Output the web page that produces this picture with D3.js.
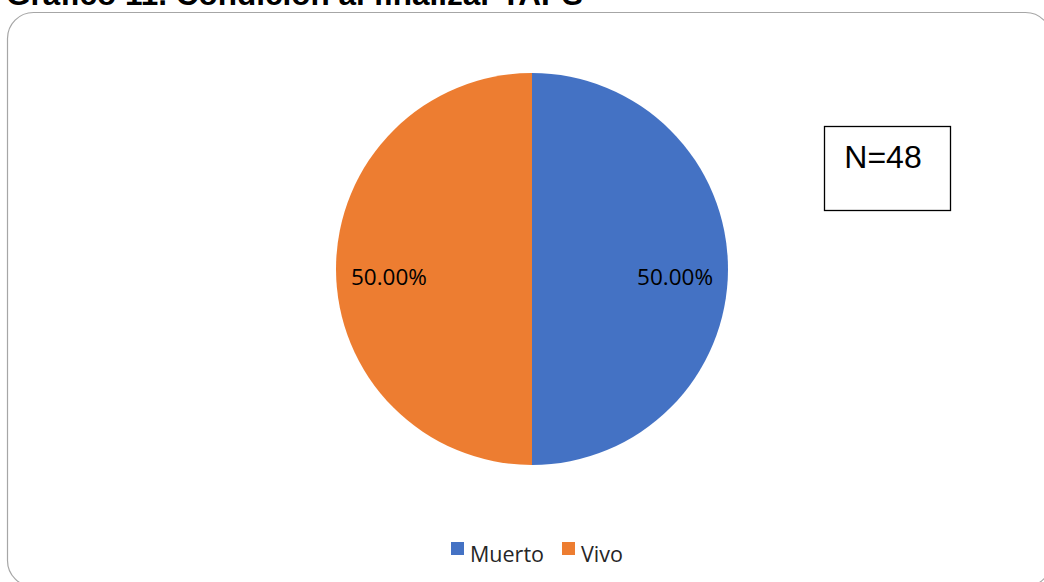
<!DOCTYPE html>
<html>
<head>
<meta charset="utf-8">
<script src="https://cdn.jsdelivr.net/npm/d3@7"></script>
<style>
  html, body { margin: 0; padding: 0; background: #fff; }
  svg { display: block; }
</style>
</head>
<body>
<svg id="chart" width="1044" height="582"></svg>
<script>
// Outcome categories and their shares (percent)
const categories = ["Muerto", "Vivo"];
const values = [50.0, 50.0];
const colors = ["#4472C4", "#ED7D31"];
const sampleLabel = "N=48";
const title = "Gráfico 11. Condición al finalizar TAPS";

const svg = d3.select("#chart");

// Title (runs off the top edge of the page)
svg.append("text")
  .attr("x", 6).attr("y", 5)
  .attr("font-family", "Liberation Sans, Arial, sans-serif")
  .attr("font-weight", "bold")
  .attr("font-size", 31.5)
  .attr("fill", "#000")
  .text(title);

// Chart area frame with rounded corners
svg.append("rect")
  .attr("x", 7.5).attr("y", 12.5)
  .attr("width", 1044).attr("height", 574)
  .attr("rx", 26).attr("ry", 26)
  .attr("fill", "none")
  .attr("stroke", "#a6a6a6")
  .attr("stroke-width", 1.2);

// Pie
const cx = 532, cy = 269, r = 196;
const pie = d3.pie().sort(null).value(d => d.value);
const arcs = pie(categories.map((c, i) => ({ cat: c, value: values[i], color: colors[i] })));
const arc = d3.arc().innerRadius(0).outerRadius(r);
const labelArc = d3.arc().innerRadius(r * 0.73).outerRadius(r * 0.73);

const g = svg.append("g").attr("transform", `translate(${cx},${cy})`);
g.selectAll("path.slice")
  .data(arcs)
  .join("path")
  .attr("class", "slice")
  .attr("d", arc)
  .attr("fill", d => d.data.color);

g.selectAll("text.pct")
  .data(arcs)
  .join("text")
  .attr("class", "pct")
  .attr("transform", d => {
    const [x, y] = labelArc.centroid(d);
    return `translate(${x},${y + 16})`;
  })
  .attr("text-anchor", "middle")
  .attr("font-family", "Open Sans, Noto Sans, sans-serif")
  .attr("font-size", 22.5)
  .attr("fill", "#000")
  .text(d => d.data.value.toFixed(2) + "%");

// Sample size box
svg.append("rect")
  .attr("x", 824.5).attr("y", 126.5)
  .attr("width", 126).attr("height", 84)
  .attr("fill", "#fff")
  .attr("stroke", "#000")
  .attr("stroke-width", 1.3);
svg.append("text")
  .attr("x", 883).attr("y", 168)
  .attr("text-anchor", "middle")
  .attr("font-family", "Liberation Sans, Arial, sans-serif")
  .attr("font-size", 32)
  .attr("fill", "#000")
  .text(sampleLabel);

// Legend
const legendItems = [
  { cat: categories[0], color: colors[0], x: 451 },
  { cat: categories[1], color: colors[1], x: 562 }
];
const lg = svg.append("g");
legendItems.forEach(it => {
  lg.append("rect")
    .attr("x", it.x).attr("y", 542)
    .attr("width", 13).attr("height", 13)
    .attr("fill", it.color);
  lg.append("text")
    .attr("x", it.x + 19).attr("y", 562)
    .attr("font-family", "Open Sans, Noto Sans, sans-serif")
    .attr("font-size", 21.5)
    .attr("fill", "#262626")
    .text(it.cat);
});
</script>
</body>
</html>
